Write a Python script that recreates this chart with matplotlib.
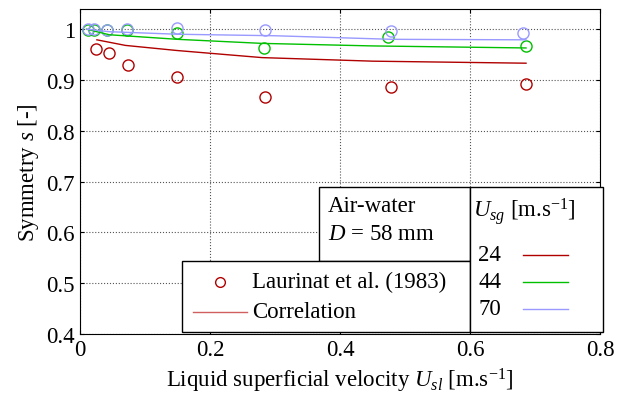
import matplotlib
matplotlib.use('Agg')
import matplotlib.pyplot as plt
from matplotlib.lines import Line2D
from matplotlib.patches import Rectangle

plt.rcParams['font.family'] = 'Liberation Serif'
plt.rcParams['mathtext.fontset'] = 'custom'
plt.rcParams['mathtext.rm'] = 'Liberation Serif'
plt.rcParams['mathtext.it'] = 'Liberation Serif:italic'

# measured points (Laurinat et al. 1983)
x24 = [0.025, 0.044, 0.074, 0.149, 0.285, 0.479, 0.686]
y24 = [0.960, 0.953, 0.930, 0.905, 0.867, 0.887, 0.892]
x44 = [0.012, 0.022, 0.042, 0.072, 0.149, 0.283, 0.474, 0.686]
y44 = [0.998, 0.998, 0.998, 0.998, 0.993, 0.963, 0.985, 0.966]
x70 = [0.012, 0.022, 0.042, 0.072, 0.149, 0.284, 0.479, 0.681]
y70 = [1.000, 1.000, 0.999, 1.000, 1.002, 0.998, 0.997, 0.993]

# correlation curves
cx24 = [0.026, 0.07, 0.149, 0.28, 0.45, 0.686]
cy24 = [0.979, 0.968, 0.958, 0.944, 0.937, 0.933]
cx44 = [0.01, 0.045, 0.15, 0.28, 0.45, 0.686]
cy44 = [1.000, 0.989, 0.980, 0.972, 0.967, 0.963]
cx70 = [0.01, 0.045, 0.15, 0.30, 0.48, 0.686]
cy70 = [1.000, 0.995, 0.990, 0.987, 0.980, 0.979]

c24, c44, c70 = '#b00000', '#00c000', '#9999ff'
fs = 16.5

fig = plt.figure(figsize=(6.2, 4.1), dpi=100)
ax = fig.add_axes([0.129, 0.183, 0.839, 0.793])

for xs, ys, c in [(x24, y24, c24), (x44, y44, c44), (x70, y70, c70)]:
    ax.plot(xs, ys, 'o', mfc='none', mec=c, ms=8, mew=1)
for xs, ys, c in [(cx24, cy24, c24), (cx44, cy44, c44), (cx70, cy70, c70)]:
    ax.plot(xs, ys, '-', color=c, lw=1)

ax.set_xlim(0, 0.8)
ax.set_ylim(0.4, 1.04)
ax.set_xticks([0, 0.2, 0.4, 0.6, 0.8])
ax.set_xticklabels(['0', '0.2', '0.4', '0.6', '0.8'], fontsize=fs)
ax.set_yticks([0.4, 0.5, 0.6, 0.7, 0.8, 0.9, 1.0])
ax.set_yticklabels(['0.4', '0.5', '0.6', '0.7', '0.8', '0.9', '1'], fontsize=fs)
ax.tick_params(direction='in', top=True, right=True, length=3)
ax.grid(True, color='#555555', linestyle=':', lw=0.8)
ax.set_xlabel(r'Liquid superficial velocity $U_{sl}$ [m.s$^{-1}$]', fontsize=fs)
ax.set_ylabel(r'Symmetry $s$ [-]', fontsize=fs)

def px(x, y):
    return ((x - 80) / 520, (335 - y) / 325)

def box(p0, p1):
    (x0, y0), (x1, y1) = px(*p0), px(*p1)
    ax.add_patch(Rectangle((x0, y0), x1 - x0, y1 - y0, transform=ax.transAxes,
                           fc='white', ec='black', lw=1, zorder=5, clip_on=False))

def hline(xa, xb, yy, c):
    ax.add_line(Line2D([px(xa, yy)[0], px(xb, yy)[0]], [px(xa, yy)[1]] * 2,
                       color=c, lw=1, transform=ax.transAxes, zorder=6))

box((319, 262), (470, 188))
box((182, 333), (470, 262))
box((470, 333), (603, 188))

kw = dict(transform=ax.transAxes, fontsize=fs, zorder=6, va='center')
ax.text(*px(328, 207), 'Air-water', **kw)
ax.text(*px(328, 235), r'$D$ = 58 mm', **kw)
ax.text(*px(252, 283), 'Laurinat et al. (1983)', **kw)
ax.text(*px(252, 313), 'Correlation', **kw)
ax.plot(*px(220, 283), 'o', mfc='none', mec=c24, ms=7, transform=ax.transAxes, zorder=6)
hline(193, 247, 313, '#d06060')
ax.text(*px(473, 212), r'$U_{sg}$ [m.s$^{-1}$]', **kw)
for lab, yy, c in [('24', 256, c24), ('44', 283, c44), ('70', 310, c70)]:
    ax.text(*px(478, yy), lab, **kw)
    hline(523, 568, yy, c)

fig.savefig('out.png', dpi=100)
